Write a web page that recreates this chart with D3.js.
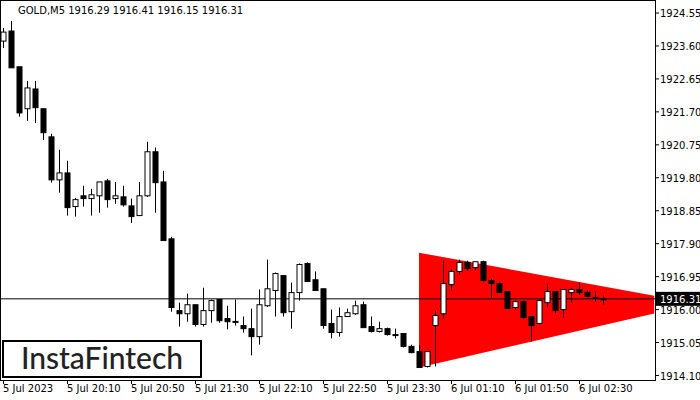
<!DOCTYPE html>
<html><head><meta charset="utf-8">
<script src="https://cdn.jsdelivr.net/npm/d3@7"></script>
<style>body{margin:0;background:#fff}svg{display:block;font-family:"DejaVu Sans",sans-serif}</style>
</head><body>
<script>
// OHLC, one per 5 minute bar
var opens  = [1923.74,1924.03,1923.00,1921.79,1922.36,1921.79,1920.98,1919.74,1919.94,1918.97,1919.28,1919.20,1919.28,1919.71,1919.20,1919.25,1918.99,1918.71,1919.28,1920.55,1919.68,1918.04,1915.97,1915.88,1916.14,1915.57,1915.97,1916.29,1915.74,1915.66,1915.54,1915.45,1915.22,1916.11,1916.55,1916.98,1915.94,1916.49,1917.33,1916.86,1916.60,1915.60,1915.34,1915.80,1915.88,1916.14,1915.51,1915.37,1915.45,1915.28,1915.31,1914.94,1914.79,1914.36,1915.54,1915.88,1916.72,1917.10,1917.36,1917.21,1917.38,1916.84,1916.75,1916.52,1916.06,1916.23,1915.80,1915.60,1916.20,1916.52,1916.00,1916.49,1916.58,1916.50,1916.35,1916.29];
var highs  = [1924.12,1924.32,1923.00,1922.59,1922.59,1921.79,1921.07,1920.61,1920.29,1919.22,1919.57,1919.48,1919.68,1919.77,1919.68,1919.57,1919.20,1919.68,1920.84,1920.67,1920.00,1918.10,1916.20,1916.46,1916.14,1916.63,1916.29,1916.29,1916.11,1916.29,1915.80,1916.03,1916.58,1917.44,1917.07,1916.98,1916.78,1917.33,1917.36,1917.10,1916.60,1916.00,1916.06,1916.03,1916.26,1916.23,1915.80,1915.65,1915.48,1915.45,1915.31,1914.99,1914.97,1914.79,1915.97,1917.41,1917.15,1917.44,1917.41,1917.38,1917.41,1916.89,1916.78,1916.52,1916.26,1916.26,1915.80,1916.26,1916.75,1916.52,1916.58,1916.63,1916.78,1916.55,1916.52,1916.41];
var lows   = [1923.54,1922.97,1921.56,1921.44,1921.38,1920.89,1919.66,1919.37,1918.71,1918.68,1918.97,1918.71,1918.79,1918.94,1919.05,1918.97,1918.50,1918.71,1919.25,1918.79,1917.99,1915.94,1915.51,1915.65,1915.51,1915.51,1915.62,1915.62,1915.43,1915.54,1915.34,1914.68,1914.99,1916.08,1915.80,1915.80,1915.45,1916.26,1916.81,1916.55,1915.45,1915.17,1915.22,1915.80,1915.85,1915.48,1915.34,1915.34,1915.25,1915.17,1914.91,1914.74,1914.33,1914.33,1914.36,1915.74,1916.55,1917.01,1917.13,1917.13,1916.81,1916.35,1916.49,1916.03,1916.00,1915.74,1915.08,1915.60,1916.06,1915.91,1915.77,1916.20,1916.43,1916.35,1916.23,1916.15];
var closes = [1924.00,1922.97,1921.67,1922.39,1921.82,1921.10,1919.74,1919.94,1918.94,1919.17,1919.20,1919.31,1919.68,1919.17,1919.28,1919.02,1918.68,1919.28,1920.55,1919.66,1917.99,1916.06,1915.88,1916.14,1915.57,1915.97,1916.26,1915.68,1915.65,1915.65,1915.45,1915.22,1916.14,1916.60,1917.04,1915.91,1916.49,1917.30,1916.81,1916.55,1915.54,1915.34,1915.80,1915.91,1916.11,1915.48,1915.37,1915.45,1915.28,1915.28,1914.94,1914.76,1914.33,1914.79,1915.83,1916.75,1917.10,1917.36,1917.18,1917.38,1916.84,1916.75,1916.49,1916.03,1916.23,1915.77,1915.54,1916.26,1916.52,1915.97,1916.58,1916.58,1916.49,1916.38,1916.33,1916.31];
var priceTicks = [1924.55,1923.60,1922.65,1921.70,1920.75,1919.80,1918.85,1917.90,1916.95,1916.00,1915.05,1914.10];
var timeLabels = ["5 Jul 2023","5 Jul 20:10","5 Jul 20:50","5 Jul 21:30","5 Jul 22:10","5 Jul 22:50","5 Jul 23:30","6 Jul 01:10","6 Jul 01:50","6 Jul 02:30"];
var timeIdx = [0,8,16,24,32,40,48,56,64,72];
// triangle pattern: [bar index, price]
var triTop = [[52,1917.64],[81.4,1916.40]];
var triBot = [[52,1914.33],[81.4,1915.89]];
var lastPrice = 1916.31;

var w = 700, h = 400, right = 655, bottom = 380;
var svg = d3.select("body").append("svg").attr("width", w).attr("height", h);
var x = d3.scaleLinear().domain([0, 1]).range([3, 11]);
var y = d3.scaleLinear().domain([1914.10, 1924.55]).range([375.5, 13]);

svg.append("rect").attr("x", 0.5).attr("y", 0.5).attr("width", right).attr("height", bottom)
	.attr("fill", "#fff").attr("stroke", "#000");

svg.append("polygon")
	.attr("points", [triTop[0], triTop[1], triBot[1], triBot[0]].map(function(p) {return x(p[0]) + "," + y(p[1])}).join(" "))
	.attr("fill", "#ff0000");

svg.append("line").attr("x1", 0).attr("x2", right).attr("y1", y(lastPrice)).attr("y2", y(lastPrice)).attr("stroke", "#000");

var bars = svg.selectAll("g.c").data(opens).enter().append("g");
bars.append("line")
	.attr("x1", function(d, i) {return x(i) + 0.5}).attr("x2", function(d, i) {return x(i) + 0.5})
	.attr("y1", function(d, i) {return y(highs[i])}).attr("y2", function(d, i) {return y(lows[i])})
	.attr("stroke", "#000");
bars.append("rect")
	.attr("x", function(d, i) {return x(i) - 2})
	.attr("y", function(d, i) {return y(Math.max(d, closes[i]))})
	.attr("width", 5)
	.attr("height", function(d, i) {return Math.max(1, Math.abs(y(d) - y(closes[i])))})
	.attr("fill", function(d, i) {return closes[i] >= d ? "#fff" : "#000"})
	.attr("stroke", "#000");

svg.selectAll("text.p").data(priceTicks).enter().append("text")
	.attr("x", 660).attr("y", function(d) {return y(d) + 4})
	.attr("font-size", 10).text(function(d) {return d.toFixed(2)});
svg.selectAll("line.p").data(priceTicks).enter().append("line")
	.attr("x1", right).attr("x2", right + 4).attr("y1", function(d) {return y(d)}).attr("y2", function(d) {return y(d)})
	.attr("stroke", "#000");

svg.append("rect").attr("x", right + 1).attr("y", y(lastPrice) - 7).attr("width", 44).attr("height", 14).attr("fill", "#000");
svg.append("text").attr("x", 660).attr("y", y(lastPrice) + 4).attr("font-size", 10).attr("fill", "#fff").text(lastPrice.toFixed(2));

svg.selectAll("text.t").data(timeLabels).enter().append("text")
	.attr("x", function(d, i) {return x(timeIdx[i])}).attr("y", 392)
	.attr("font-size", 10).text(function(d) {return d});
svg.selectAll("line.t").data(timeIdx).enter().append("line")
	.attr("x1", function(d) {return x(d) + 0.5}).attr("x2", function(d) {return x(d) + 0.5})
	.attr("y1", bottom).attr("y2", bottom + 4).attr("stroke", "#000");

svg.append("text").attr("x", 18).attr("y", 14).attr("font-size", 10)
	.text("GOLD,M5  1916.29 1916.41 1916.15 1916.31");

svg.append("rect").attr("x", 3).attr("y", 341).attr("width", 198).attr("height", 36)
	.attr("fill", "#fff").attr("stroke", "#000").attr("stroke-width", 2);
svg.append("text").attr("x", 102).attr("y", 369).attr("text-anchor", "middle")
	.attr("font-family", "Lato, 'Open Sans', sans-serif").attr("font-size", 30).attr("font-weight", 500).attr("fill", "#222")
	.text("InstaFintech");
</script>
</body></html>
